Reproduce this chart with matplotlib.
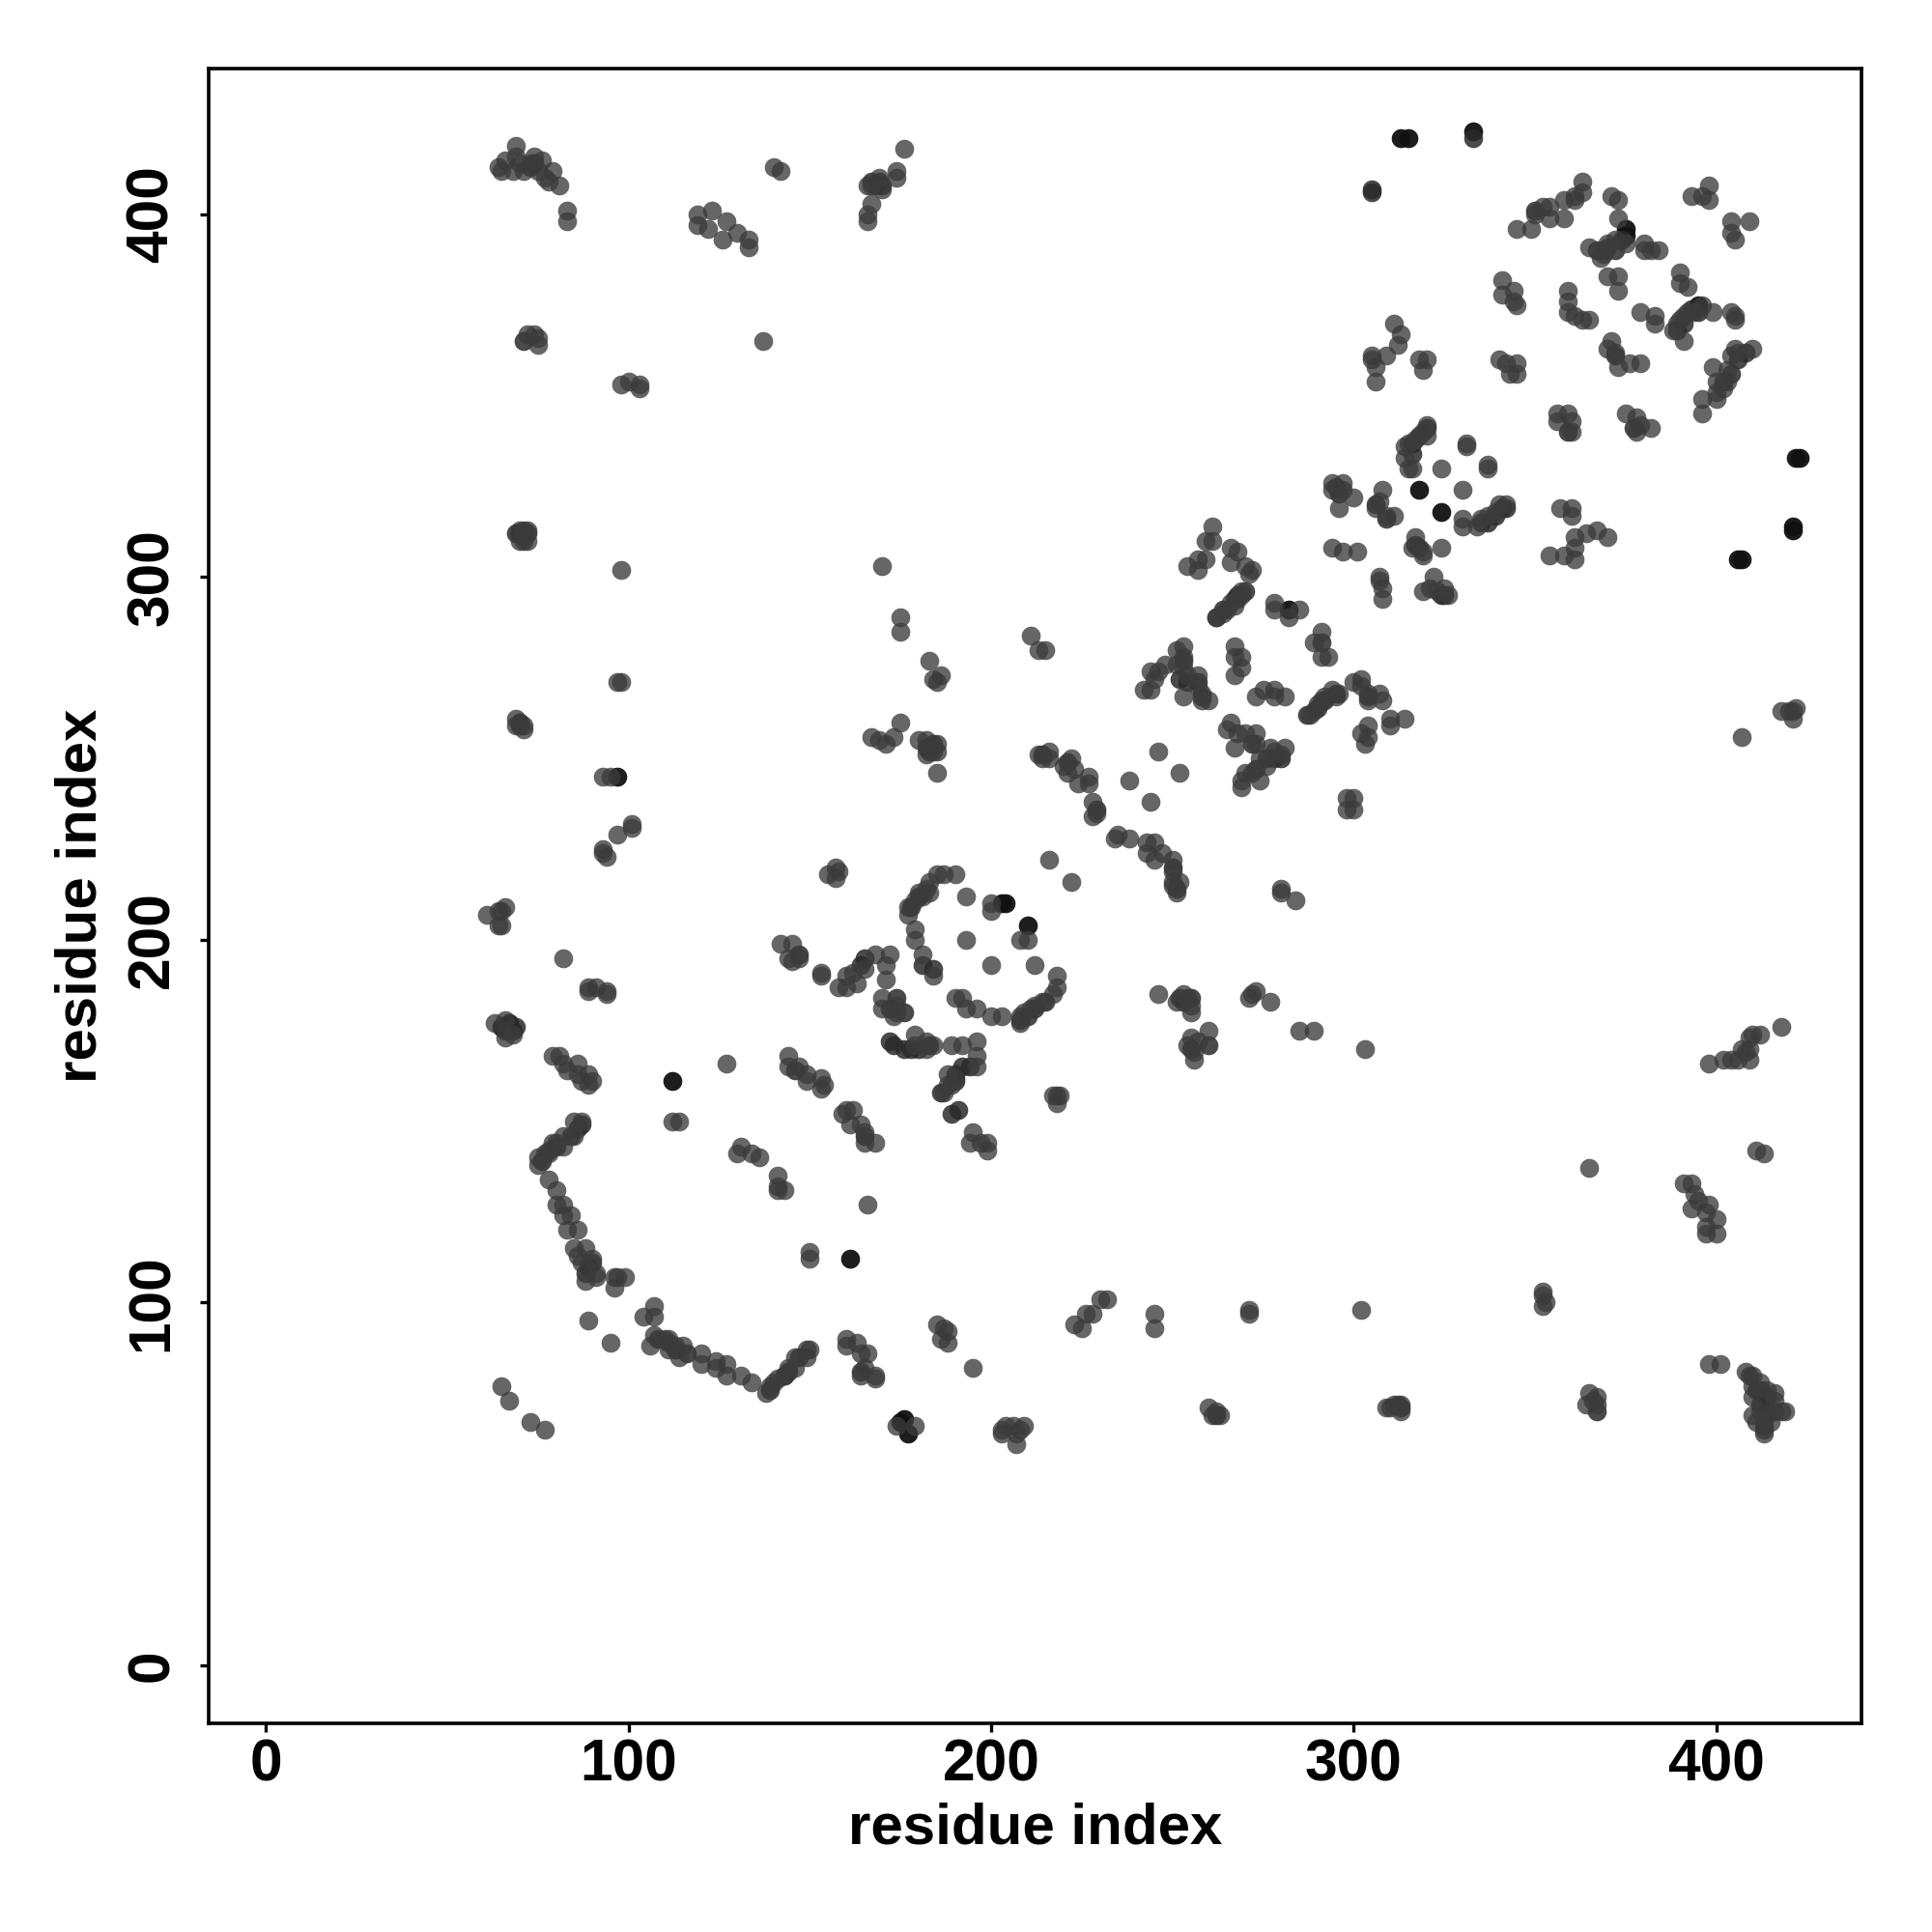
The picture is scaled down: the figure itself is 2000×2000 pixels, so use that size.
import matplotlib
matplotlib.use("Agg")
import matplotlib.pyplot as plt

plt.rcParams['font.family'] = ['Liberation Sans', 'DejaVu Sans']

tick_values = [0, 100, 200, 300, 400]
x_label = "residue index"
y_label = "residue index"

# contacts: (residue i, residue j)
top_left = [(64,413),(66,415),(69,419),(69,416),(70,414),(71,412),(68,412),(65,412),(74,416),(76,415),(75,412),(77,410),
    (79,412),(81,408),(78,409),(73,414),(83,401),(83,398),(140,413),(142,412),(119,400),(119,397),(123,401),(122,396),
    (127,398),(126,393),(130,395),(133,393),(133,391),(176,418),(174,412),(174,410),(169,410),(166,408),(170,407),
    (167,408),(167,403),(166,400),(166,398),(72,367),(75,366),(75,364),(74,367),(137,365),(98,353),(100,354),(103,352),
    (103,353),(71,313),(71,310),(70,310),(72,313),(70,313),(72,310),(98,302),(170,303)]
left_column = [(69,261),(69,259),(71,258),(70,260),(71,259),(98,271),(97,271),(93,245),(95,245),(101,232),(101,231),
    (97,229),(93,224),(93,225),(94,223),(61,207),(65,208),(64,204),(66,209),(64,208),(65,204),(82,195),(89,187),(91,187),
    (94,186),(89,186),(94,185)]
upper_diag = [(345,396),(349,396),(350,400),(352,402),(354,402),(354,399),(358,399),(358,404),(361,404),(361,405),
    (363,409),(363,406),(371,405),(373,404),(373,399),(375,392),(372,393),(370,391),(369,390),(368,388),(365,391),(370,392),
    (369,389),(380,392),(380,390),(384,390),(382,390),(370,383),(373,383),(373,379),(390,384),(390,381),(392,380),(398,408),
    (393,405),(396,405),(398,404),(404,398),(409,398),(404,395),(405,393),(341,382),(341,378),(344,379),(345,375),(344,376),
    (359,379),(359,376),(359,373),(361,372),(365,371),(363,371),(379,373),(383,372),(383,370),(388,368),(389,370),(390,371),
    (391,372),(392,373),(396,375),(394,373),(391,365),(399,373),(404,373),(405,371),(405,372),(311,370),(313,367),(312,364),
    (309,361),(305,361),(306,358),(306,354),(305,360),(318,360),(320,360),(319,357),(340,360),(342,359),(345,359),(343,356),
    (345,356),(371,365),(370,363),(372,362),(373,358),(376,359),(379,359),(410,363),(405,363),(404,361),(406,362),(403,357),
    (399,358),(403,354),(400,354),(400,351),(402,352),(396,349),(396,345),(400,349),(356,345),(359,345),(356,343),(360,340),
    (360,343),(375,345),(378,344),(378,340),(382,341),(379,342)]
centre_ring = [(320,342),(319,340),(317,338),(315,337),(314,336),(314,333),(320,339),(315,330),(316,330),(331,336),(331,337),
    (324,330),(337,330),(337,331),(330,324),(342,320),(340,320),(339,318),(337,317),(335,316),(334,314),(330,316),(330,314),
    (294,326),(297,326),(294,324),(300,322),(296,319),(297,324),(308,324),(307,321),(306,319),(309,317),(311,317),(317,311),
    (316,308),(319,307),(319,306),(324,308),(294,308),(297,307),(301,307),(307,300),(307,299),(308,294),(308,297),(319,296),
    (322,300),(321,297),(325,297),(326,295),(323,296),(357,319),(360,319),(360,317),(367,313),(370,311),(364,312),(361,311),
    (361,308),(361,305),(354,306),(358,306)]
mid_square = [(261,314),(259,310),(261,310),(254,303),(257,305),(259,305),(257,302),(266,308),(268,307),(266,304),(270,303),
    (272,302),(271,301),(269,295),(268,294),(266,293),(265,291),(264,290),(262,289),(269,296),(267,292),(278,293),(278,291),
    (285,291),(282,289),(291,285),(289,282),(291,278),(293,278),(267,281),(269,278),(267,278),(269,275),(267,273),(253,281),
    (251,280),(253,278),(251,276),(248,276),(246,274),(244,274),(245,272),(242,269),(244,269),(253,275),(254,273),(257,273),
    (257,270),(253,267),(258,266),(260,266),(258,268),(273,267),(275,269),(278,269),(278,267),(281,267),(296,268),(294,269),
    (292,267),(291,266),(290,265),(289,263),(288,262),(295,267),(300,271),(302,272),(302,270),(304,268),(304,266),(307,268),
    (308,266),(314,261),(310,261),(310,259),(304,259),(304,256),(302,257),(303,254),(266,260),(265,258),(268,257),(270,257),
    (273,257),(267,253),(273,254),(277,253),(281,253),(280,251),(276,248),(274,250),(272,246),(269,244),(269,242),(274,244),
    (270,246),(278,252),(211,284),(213,280),(215,280),(246,252),(238,244),(252,246),(244,238),(213,251),(216,252),(214,250),
    (216,250),(222,250),(220,248),(223,247),(221,246),(227,245),(224,243),(227,243),(228,238),(229,235),(228,234),(234,228),
    (235,229),(238,228),(243,227),(245,227),(243,224),(247,224),(245,222),(250,222),(250,219),(252,216),(250,216),(251,213),
    (250,215),(216,222),(222,216),(280,214),(280,213),(284,211),(298,239),(300,239),(298,236),(300,236)]
mid_left = [(155,218),(157,220),(158,219),(157,217),(190,218),(187,218),(185,218),(183,216),(182,214),(183,213),(180,213),
    (179,211),(177,209),(177,207),(181,212),(193,212),(200,210),(200,208),(208,200),(210,200),(193,200),(200,193),(212,193),
    (179,203),(179,200),(181,196),(184,190),(218,190),(218,187),(217,185),(214,183),(212,182),(211,181),(209,180),(208,179),
    (208,177),(203,179),(200,179),(196,181),(190,184),(192,184),(193,181),(142,199),(145,199),(144,195),(145,194),(147,195),
    (153,191),(153,190),(158,187),(160,187),(160,190),(162,191),(163,188),(165,192),(168,196),(172,196),(171,193),(171,189),
    (170,184),(170,181),(174,182),(174,180),(173,179),(179,174),(179,171),(182,172),(184,171),(182,170),(189,171),(192,171),
    (196,172),(196,168),(196,165),(188,163),(190,162),(188,160),(187,158),(189,160),(195,147),(194,144),(199,144),(199,142),
    (197,144),(144,168),(144,165),(147,165),(149,163),(149,161),(153,162),(154,160),(153,159),(160,153),(159,152),(162,153),
    (161,149),(164,149),(165,147),(165,144),(168,144),(218,157),(219,157),(218,155),(217,157),(246,185),(253,185),(254,184),
    (251,183),(255,182),(255,180),(260,175),(257,172),(255,173),(254,171),(256,169),(256,167),(166,127),(150,114),(150,112),
    (232,101),(230,101),(228,97),(226,97),(225,93),(223,94),(245,97),(245,93),(175,289),(175,285),(183,277),(184,272),(185,271),
    (186,273),(167,256),(169,255),(171,254),(173,256),(175,260),(180,255),(182,255),(183,253),(185,254),(185,252),(182,251),
    (184,252),(185,246),(285,175),(289,175),(303,170),(272,185),(271,184),(273,186),(277,183)]
lower_left = [(63,177),(66,178),(66,173),(68,174),(79,168),(81,168),(82,166),(83,164),(86,166),(86,163),(89,163),(87,161),
    (90,161),(89,160),(127,166),(112,150),(114,150),(85,150),(87,150),(85,146),(82,146),(82,143),(79,144),(78,141),(77,141),
    (75,140),(75,138),(80,144),(78,142),(78,134),(80,131),(82,127),(80,127),(84,124),(82,124),(83,120),(86,120),(85,115),
    (88,115),(86,113),(90,112),(87,111),(91,108),(91,107),(88,106),(96,107),(99,107),(96,104),(97,107),(89,95),(95,89),(107,99),
    (104,96),(107,96),(107,91),(106,88),(110,90),(111,90),(111,87),(113,88),(115,88),(114,85),(120,86),(120,83),(124,84),
    (124,82),(127,83),(127,80),(131,80),(134,78),(138,75),(139,77),(140,78),(141,79),(143,80),(144,82),(146,82),(146,85),
    (150,87),(149,85),(149,87),(160,90),(160,88),(163,89),(164,86),(165,82),(168,80),(168,79),(164,80),(166,86),(174,66),
    (179,66),(65,77),(67,73),(73,67),(77,65),(131,143),(130,141),(134,141),(136,140),(141,135),(141,132),(143,131),(141,131)]
lower_right = [(203,65),(203,64),(207,64),(207,61),(209,66),(208,65),(204,66),(206,66),(185,94),(187,93),(186,90),(188,89),
    (188,92),(195,82),(302,98),(271,98),(271,97),(260,71),(262,70),(263,69),(261,69),(311,72),(309,71),(310,71),(312,72),
    (313,70),(313,72),(352,103),(353,100),(352,99),(352,102),(365,137),(364,72),(365,75),(367,74),(367,72),(366,73),(398,83),
    (401,83),(408,81),(409,80),(410,80),(412,78),(410,77),(414,76),(416,75),(410,74),(416,73),(412,70),(410,69),(416,70),
    (418,70),(419,70),(413,65),(411,67),(415,67),(414,69),(413,64),(393,133),(391,133),(394,130),(393,126),(395,128),(397,125),
    (400,123),(397,121),(400,119),(397,119),(398,127),(411,142),(413,141),(410,174),(412,174),(418,176),(398,166),(402,167),
    (404,167),(406,167),(408,169),(409,167),(407,170),(409,170),(409,173),(418,263),(421,263),(422,264),(421,261),(420,263),
    (407,256)]
dark_contacts = [(305,407),(305,406),(333,421),(71,365),(393,374),(350,401),(367,390),(335,315),(316,334),(309,316),(295,325),
    (317,309),(342,319),(324,295),(404,356),(372,361),(359,340),(377,341),(264,291),(267,294),(291,282),(253,277),
    (257,271),(276,250),(280,250),(292,266),(304,267),(221,249),(229,236),(250,220),(214,251),(181,193),(184,192),(165,195),
    (164,193),(191,153),(189,152),(192,165),(174,184),(183,171),(212,181),(208,178),(178,209),(180,212),(147,196),(146,164),(165,146),
    (252,184),(255,170),(87,149),(84,146),(90,111),(111,89),(144,81),(147,85),(164,81),(73,413),(74,414),(167,409),(169,409),(69,176),
    (184,254),(272,254),(186,158),(412,76),(414,74),(367,70),(262,69),(313,71),(70,260),(70,259),(69,312),(70,312),(71,311),(72,312),
    (66,175),(68,175),(170,408),(168,408),(89,110),(88,108),(86,148),(76,139),(80,143),(183,252),(182,253),(190,161),(190,163),
    (194,165),(172,172),(173,171),(176,170),(178,170),(180,170),(210,179),(215,183),(172,181),(176,180),(251,214),(253,183),(255,184),
    (260,171),(278,250),(273,247),(295,268),(290,264),(287,262),(252,272),(254,271),(258,267),(262,289),(268,295),(270,296),
    (316,337),(318,339),(320,341),(337,315),(339,317),(341,319),(372,390),(374,393),(395,373),(391,370),(389,368),(402,354),(406,360),
    (408,362),(296,323),(306,320),(318,308),(325,295),(143,80),(139,76),(113,87),(108,90),(116,86),(412,72),(414,70),(413,66),(411,76)]
strong_contacts = [(161,112),(112,161),(333,423),(313,421),(315,421),(422,333),(423,333),(421,314),(421,313),(407,305),(406,305),
    (203,210),(204,210),(210,204),(97,245),(176,68),(175,67),(177,64),(318,324),(324,318),(375,396),(375,394),(395,375),(65,176),
    (67,177),(282,291)]

weak_contacts = top_left + left_column + upper_diag + centre_ring + mid_square + mid_left + lower_left + lower_right

point_size = 50


def unzip(pairs):
    return [p[0] for p in pairs], [p[1] for p in pairs]


fig = plt.figure(figsize=(10, 10), dpi=200, facecolor="white")
ax = fig.add_axes([216 / 2000, 1 - 1784 / 2000, 1711 / 2000, 1713 / 2000])
ax.set_xlim(-15.8, 440.0)
ax.set_ylim(-16, 440.2)

for pairs, colour, alpha, order in [(strong_contacts, "#111111", 0.95, 2),
                                    (dark_contacts, "#2a2a2a", 0.85, 3),
                                    (weak_contacts, "#3b3b3b", 0.78, 4)]:
    xs, ys = unzip(pairs)
    ax.scatter(xs, ys, s=point_size, c=colour, alpha=alpha, linewidths=0, zorder=order)

for spine in ax.spines.values():
    spine.set_linewidth(1.3)
ax.set_xticks(tick_values)
ax.set_yticks(tick_values)
ax.tick_params(length=3.2, width=1.2, labelsize=21.8)
ax.tick_params(axis="x", pad=2.2)
ax.tick_params(axis="y", pad=7.2)
for lab in ax.get_xticklabels():
    lab.set_fontweight("bold")
for lab in ax.get_yticklabels():
    lab.set_fontweight("bold")
    lab.set_rotation(90)
    lab.set_va("center")
ax.set_xlabel(x_label, fontsize=21.6, fontweight="bold", labelpad=3.3)
ax.set_ylabel(y_label, fontsize=21.6, fontweight="bold", labelpad=6.6)

fig.savefig("out.png", dpi=200, facecolor="white")
